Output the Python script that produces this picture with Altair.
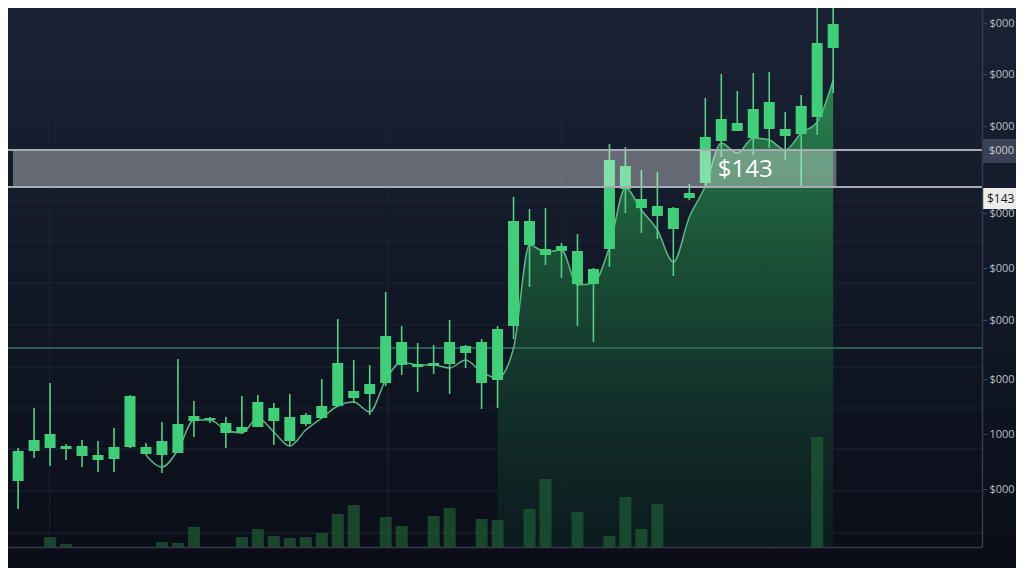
import altair as alt
import pandas as pd

# ---------------- data ----------------
idx = list(range(53))
open_ = [52, 66, 96, 99, 98, 91, 87, 88, 100, 93, 92, 94, 126, 127, 114, 115, 120, 126, 106, 123,
         129, 141, 149, 153, 164, 182, 180, 181, 183, 194, 164, 167, 221, 302, 292, 296, 263, 263,
         298, 358, 339, 331, 318, 349, 364, 406, 416, 409, 418, 411, 413, 430, 499]
close = [72, 96, 107, 113, 101, 101, 92, 100, 151, 100, 106, 123, 131, 129, 124, 120, 145, 139, 130, 132,
         141, 184, 156, 163, 211, 205, 183, 184, 205, 201, 205, 218, 326, 326, 298, 301, 296, 278,
         387, 381, 348, 341, 339, 354, 410, 428, 424, 438, 445, 418, 441, 504, 523]
high = [85, 99, 139, 164, 103, 107, 106, 119, 152, 104, 125, 188, 146, 130, 130, 151, 152, 144, 153, 134,
        168, 228, 187, 182, 255, 221, 204, 202, 227, 202, 208, 221, 350, 338, 339, 304, 313, 279,
        403, 400, 377, 375, 340, 363, 449, 473, 456, 474, 475, 435, 452, 560, 570]
low = [47, 38, 89, 81, 87, 80, 75, 75, 99, 92, 74, 94, 110, 124, 99, 113, 120, 102, 101, 121,
       129, 140, 144, 132, 161, 172, 155, 173, 153, 179, 138, 139, 208, 260, 282, 269, 221, 205,
       280, 334, 314, 308, 271, 347, 360, 390, 417, 392, 399, 387, 360, 412, 454]

trend_idx = list(range(9, 53))
trend = [92, 80, 97, 127, 127, 117, 114, 129, 115, 101, 117, 129, 141, 145, 135, 167, 185, 182, 182, 179,
         187, 175, 169, 199, 302, 295, 297, 262, 264, 300, 359, 337, 317, 285, 330, 361, 404, 394,
         409, 407, 397, 414, 425, 467]
area_start = 31

vol_idx = [3, 4, 10, 11, 12, 15, 16, 17, 18, 19, 20, 21, 22, 24, 25, 27, 28, 30, 31, 33, 34, 36, 38, 39, 40, 41, 51]
vol = [10, 3, 5, 4, 20, 10, 18, 11, 9, 10, 14, 33, 42, 30, 21, 31, 39, 28, 27, 38, 68, 35, 11, 50, 18, 43, 110]

tick_vals = [524, 473, 421, 334, 279, 227, 168, 113, 58]
tick_labels = ["$000", "$000", "$000", "$000", "$000", "$000", "$000", "1000", "$000"]

grid_y = [515, 474, 430, 388, 346, 306, 264, 222, 180, 139, 98, 56, 14]
grid_x = [2.97, 24.15, 35.05, 48.36]

support_level = 199
band_lo, band_hi = 360, 397
band_x = [0.68, 52.2]
band_label = "$143"
band_label_pos = [46.5, 377]

hl_box = {"lo": 384, "hi": 408, "mid": 396, "text": "$000"}
price_box = {"lo": 338, "hi": 359, "mid": 348.5, "text": "$143"}

# ---------------- frames ----------------
candles = pd.DataFrame({"idx": idx, "open": open_, "close": close, "high": high, "low": low})
tr = pd.DataFrame({"idx": trend_idx, "trend": trend})
area_df = tr[tr["idx"] >= area_start]
vol_df = pd.DataFrame({"idx": vol_idx, "vol": vol})
gy = pd.DataFrame({"y": grid_y})
gx = pd.DataFrame({"x": grid_x})

W, H = 974, 539
XD = [0.68, 61.0]
YD = [0, 539]
xs = alt.Scale(domain=XD, nice=False, zero=False)
ys = alt.Scale(domain=YD, nice=False, zero=False)

label_expr = " : ".join(
    [f"datum.value == {v} ? '{t}'" for v, t in zip(tick_vals, tick_labels)] + ["''"]
)

x_axis = alt.Axis(labels=False, ticks=False, grid=False, title=None, domain=True, zindex=1,
                  domainColor="#353b49", domainWidth=1.5, orient="bottom")
y_axis = alt.Axis(orient="right", values=tick_vals, labelExpr=label_expr, grid=False, title=None, zindex=1,
                  domainColor="#343b4b", domainWidth=1.5, tickColor="#3b4252", tickSize=5, labelPadding=2,
                  labelColor="#b9bec8", labelFontSize=11, labelFont="Open Sans")


def X(f):
    return alt.X(f, scale=xs, axis=x_axis)


def Y(f):
    return alt.Y(f, scale=ys, axis=y_axis)


one = pd.DataFrame({"a": [0]})

bg = alt.Chart(one).mark_rect(
    color=alt.Gradient(gradient="linear", x1=0, x2=0, y1=0, y2=1,
                       stops=[alt.GradientStop(color="#1a2234", offset=0),
                              alt.GradientStop(color="#121827", offset=0.5),
                              alt.GradientStop(color="#0a0d17", offset=1)])
).encode(x=alt.value(-10), x2=alt.value(1020), y=alt.value(-10), y2=alt.value(570))

grid_h = alt.Chart(gy).mark_rule(color="#1e2535", strokeWidth=1).encode(y=Y("y:Q"))
grid_v = alt.Chart(gx).mark_rule(color="#1c2434", strokeWidth=1).encode(x=X("x:Q"))

area = alt.Chart(area_df).mark_area(
    interpolate="monotone", orient="vertical", clip=True,
    color=alt.Gradient(gradient="linear", x1=0, x2=0, y1=0, y2=1,
                       stops=[alt.GradientStop(color="#2a8a52", offset=0),
                              alt.GradientStop(color="#1c5638", offset=0.35),
                              alt.GradientStop(color="#12302a", offset=0.7),
                              alt.GradientStop(color="#0c1b1e", offset=1)]),
    opacity=0.95,
).encode(x=X("idx:Q"), y=Y("trend:Q"), y2=alt.datum(0))

vol_bars = alt.Chart(vol_df).mark_bar(orient="vertical", size=12, color="#1f5c36", opacity=0.7, clip=True).encode(
    x=X("idx:Q"), y=Y("vol:Q"), y2=alt.datum(0))

support = alt.Chart(pd.DataFrame({"y": [support_level]})).mark_rule(color="#357563", strokeWidth=1.3).encode(
    y=Y("y:Q"))

trend_line = alt.Chart(tr).mark_line(interpolate="monotone", color="#66cf8f", strokeWidth=1.5,
                                     opacity=0.85, clip=True).encode(x=X("idx:Q"), y=Y("trend:Q"))

wicks = alt.Chart(candles).mark_rule(color="#52d186", strokeWidth=1.6, clip=True).encode(
    x=X("idx:Q"), y=Y("low:Q"), y2="high:Q")

bodies = alt.Chart(candles).mark_bar(orient="vertical", size=11, color="#3fcf78", clip=True).encode(
    x=X("idx:Q"), y=Y("open:Q"), y2="close:Q")

band_fill = alt.Chart(pd.DataFrame({"x": [band_x[0]], "x2": [band_x[1]], "lo": [band_lo], "hi": [band_hi]})).mark_rect(
    color="#ffffff", opacity=0.34, clip=True).encode(
    x=X("x:Q"), x2="x2:Q", y=Y("lo:Q"), y2="hi:Q")

band_lines = alt.Chart(pd.DataFrame({"y": [band_lo, band_hi]})).mark_rule(color="#a8abb2", strokeWidth=2).encode(
    y=Y("y:Q"))

band_text = alt.Chart(pd.DataFrame({"x": [band_label_pos[0]], "y": [band_label_pos[1]], "t": [band_label]})).mark_text(
    font="Open Sans", fontSize=24, color="#ffffff", align="center", baseline="middle").encode(
    x=X("x:Q"), y=Y("y:Q"), text="t:N")

hl_rect = alt.Chart(pd.DataFrame([hl_box])).mark_rect(color="#3a4253").encode(
    x=alt.value(975), x2=alt.value(1012), y=Y("lo:Q"), y2="hi:Q")
hl_text = alt.Chart(pd.DataFrame([hl_box])).mark_text(
    font="Open Sans", fontSize=11, color="#c8ccd5", align="left", baseline="middle").encode(
    x=alt.value(981), y=Y("mid:Q"), text="text:N")

pb_rect = alt.Chart(pd.DataFrame([price_box])).mark_rect(color="#ececec").encode(
    x=alt.value(975), x2=alt.value(1012), y=Y("lo:Q"), y2="hi:Q")
pb_text = alt.Chart(pd.DataFrame([price_box])).mark_text(
    font="Open Sans", fontSize=12, color="#15181f", align="left", baseline="middle").encode(
    x=alt.value(979), y=Y("mid:Q"), text="text:N")

chart = alt.layer(
    bg, grid_h, grid_v, area, vol_bars, support, trend_line, wicks, bodies,
    band_fill, band_lines, band_text, hl_rect, hl_text, pb_rect, pb_text
).properties(
    width=W, height=H,
    autosize=alt.AutoSizeParams(type="none"),
    padding={"left": 0, "top": 0, "right": 34, "bottom": 21},
    background="#0d111c",
).configure_view(stroke=None)

chart.save("out.html", embed_options={"renderer": "svg", "actions": False})
